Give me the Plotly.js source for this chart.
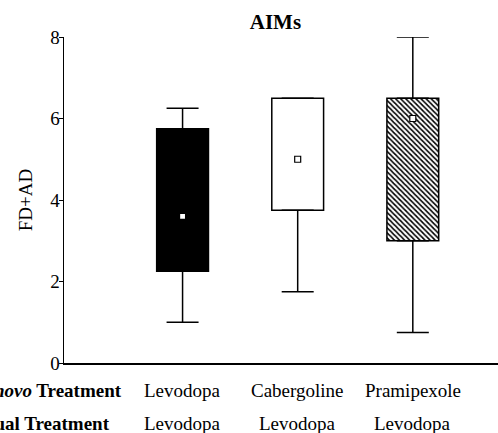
<!DOCTYPE html>
<html>
<head>
<meta charset="utf-8">
<script src="https://cdn.plot.ly/plotly-3.0.1.min.js"></script>
<style>html,body{margin:0;padding:0;background:#fff;}</style>
</head>
<body>
<div id="chart" style="width:498px;height:433px;"></div>
<script>
// Data
const deNovoTreatment = ["Levodopa", "Cabergoline", "Pramipexole"];
const actualTreatment = ["Levodopa", "Levodopa", "Levodopa"];
const lowerWhisker = [1.0, 1.75, 0.75];
const q1 = [2.25, 3.75, 3.0];
const medians = [3.6, 5.0, 6.0];
const q3 = [5.75, 6.5, 6.5];
const upperWhisker = [6.25, 6.5, 8.0];
const yTicks = [0, 2, 4, 6, 8];

const pos = deNovoTreatment.map((_, i) => i);
const FONT = "Liberation Serif, Times New Roman, serif";

const fills = ["black", "white", "white"];
const patterns = ["", "", "\\"];

const boxTraces = pos.map(i => {
  const m = {color: fills[i], line: {color: "black", width: 1.5}};
  if (patterns[i]) {
    m.pattern = {shape: patterns[i], fgcolor: "black", bgcolor: "white", size: 3.6, solidity: 0.45, fillmode: "replace"};
  }
  return {
    type: "bar",
    x: [i],
    base: [q1[i]],
    y: [q3[i] - q1[i]],
    width: 0.45,
    marker: m,
    hoverinfo: "skip"
  };
});

const upperW = {
  type: "scatter", mode: "markers",
  x: pos, y: q3,
  marker: {opacity: 0, size: 1},
  error_y: {type: "data", symmetric: false,
    array: upperWhisker.map((v, i) => v - q3[i]),
    arrayminus: q3.map(() => 0),
    width: 16, thickness: 1.5, color: "black"},
  hoverinfo: "skip"
};

const lowerW = {
  type: "scatter", mode: "markers",
  x: pos, y: q1,
  marker: {opacity: 0, size: 1},
  error_y: {type: "data", symmetric: false,
    array: q1.map(() => 0),
    arrayminus: q1.map((v, i) => v - lowerWhisker[i]),
    width: 16, thickness: 1.5, color: "black"},
  hoverinfo: "skip"
};

const med = {
  type: "scatter", mode: "markers",
  x: pos, y: medians,
  marker: {symbol: "square", size: 6, color: "white", line: {color: "black", width: 1.2}},
  hoverinfo: "skip"
};

const annotations = [];
deNovoTreatment.forEach((t, i) => {
  annotations.push({xref: "x", yref: "paper", x: i, y: 0, yshift: -27, yanchor: "middle", xanchor: "center",
    text: t, showarrow: false, font: {family: FONT, size: 19, color: "black"}});
});
actualTreatment.forEach((t, i) => {
  annotations.push({xref: "x", yref: "paper", x: i, y: 0, yshift: -60, yanchor: "middle", xanchor: "center",
    text: t, showarrow: false, font: {family: FONT, size: 19, color: "black"}});
});
annotations.push({xref: "paper", yref: "paper", x: 0.1375, y: 0, yshift: -27, yanchor: "middle", xanchor: "right",
  text: "<b><i>De novo</i> Treatment</b>", showarrow: false, font: {family: FONT, size: 19, color: "black"}});
annotations.push({xref: "paper", yref: "paper", x: 0.1105, y: 0, yshift: -60, yanchor: "middle", xanchor: "right",
  text: "<b>Actual Treatment</b>", showarrow: false, font: {family: FONT, size: 19, color: "black"}});

const layout = {
  width: 498, height: 433,
  margin: {l: 64, r: 0, t: 37, b: 70, pad: 0},
  paper_bgcolor: "white", plot_bgcolor: "white",
  showlegend: false, hovermode: false, barmode: "overlay",
  title: {text: "<b>AIMs</b>", font: {family: FONT, size: 21, color: "black"},
    xref: "container", x: 0.553, xanchor: "center", yref: "container", y: 0.951, yanchor: "middle"},
  xaxis: {range: [-1.03, 2.74], showline: true, linecolor: "black", linewidth: 2,
    showticklabels: false, ticks: "", showgrid: false, zeroline: false, fixedrange: true},
  yaxis: {range: [0, 8], tickvals: yTicks, ticktext: yTicks.map(String), ticks: "outside", ticklen: 4, tickwidth: 1,
    tickcolor: "black", showline: true, linecolor: "black", linewidth: 1.5, showgrid: false, zeroline: false,
    ticklabelstandoff: -5,
    tickfont: {family: FONT, size: 19, color: "black"},
    title: {text: "FD+AD", font: {family: FONT, size: 19, color: "black"}, standoff: 12}},
  annotations: annotations
};

Plotly.newPlot("chart", boxTraces.concat([upperW, lowerW, med]), layout, {displayModeBar: false, staticPlot: true});
</script>
</body>
</html>
